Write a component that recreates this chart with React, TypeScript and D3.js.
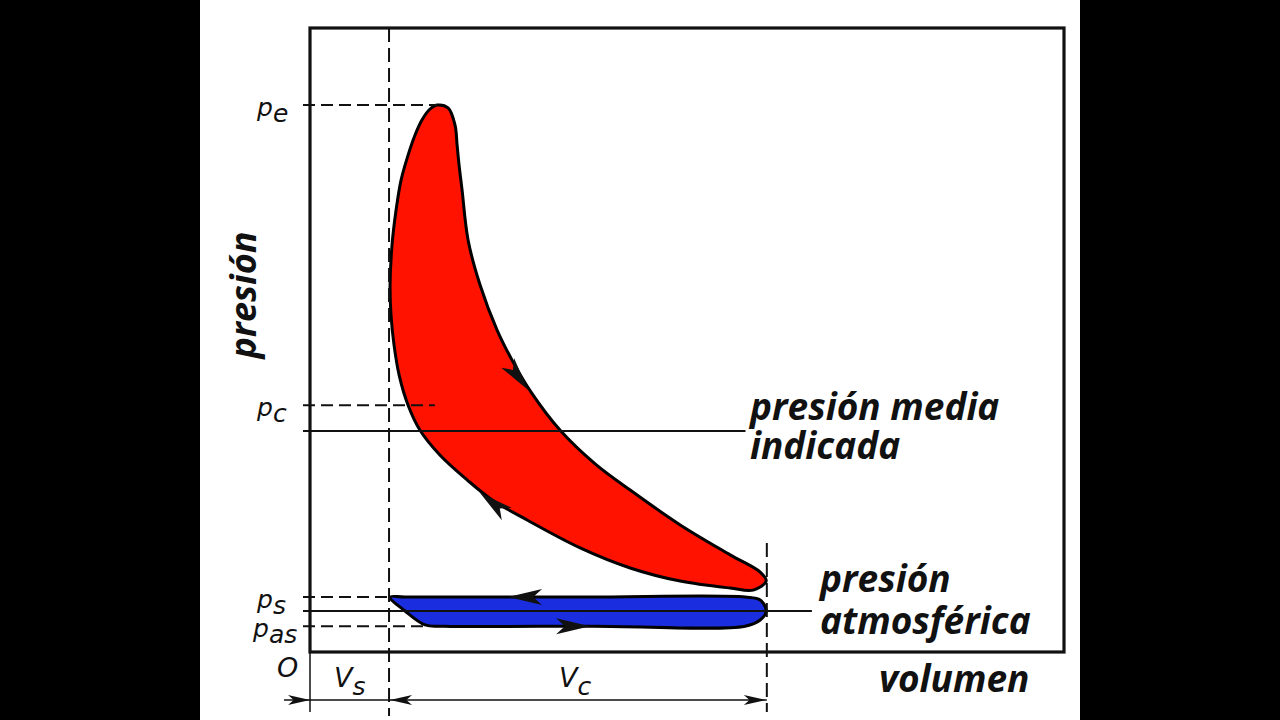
import { useEffect, useRef } from 'react';
import * as d3 from 'd3';

// p–V indicator diagram: volume in units of the clearance volume, pressure in bar
const V_CLEAR = 1.0;   // end of clearance volume V_s
const V_BDC = 5.78;    // V_s + V_c
const V_MAX = 9.54;
const P_MAX = 15.22;

// named pressure levels on the left axis
const levelSubs = ['e', 'c', 's', 'as'];
const levelValues = [13.34, 6.02, 1.34, 0.63];
const levelReach = [1.61, 1.58, 1.01, 1.46]; // volume where each dashed guide stops

const P_MEAN = 5.39;   // presión media indicada
const P_ATM = 1.0;     // presión atmosférica
const MEAN_REACH = 5.51;
const ATM_REACH = 6.35;

// expansion stroke, from peak pressure down to BDC
const expansion: [number, number][] = [
  [1.608, 13.34], [1.747, 13.27], [1.835, 12.85], [1.861, 12.37], [1.886, 11.88],
  [1.924, 11.27], [2.0, 10.05], [2.152, 8.95], [2.367, 7.85], [2.57, 7.07],
  [2.797, 6.34], [3.165, 5.41], [3.608, 4.59], [4.051, 3.95], [4.684, 3.1],
  [5.316, 2.37], [5.696, 1.95], [5.772, 1.73],
];

// compression stroke, from BDC back up to the peak
const compression: [number, number][] = [
  [5.608, 1.51], [5.316, 1.56], [4.684, 1.73], [4.051, 2.05], [3.418, 2.54],
  [2.747, 3.22], [2.304, 3.71], [1.987, 4.2], [1.646, 4.8], [1.392, 5.41],
  [1.241, 6.02], [1.127, 6.76], [1.063, 7.49], [1.025, 8.22], [1.013, 8.95],
  [1.038, 9.93], [1.089, 10.78], [1.152, 11.51], [1.241, 12.12], [1.329, 12.61],
  [1.418, 12.98], [1.506, 13.22],
];

// exhaust (upper edge) and intake (lower edge) loop
const pumping: [number, number][] = [
  [1.013, 1.34], [1.203, 1.0], [1.456, 0.66], [1.7, 0.63], [3.6, 0.63],
  [5.506, 0.63], [5.696, 0.78], [5.772, 1.0], [5.696, 1.27], [5.506, 1.34],
  [3.5, 1.34], [1.2, 1.34],
];

// direction arrows on each stroke: tip and a point behind it
const flowTips: [number, number][] = [[2.759, 6.39], [2.152, 3.88], [2.506, 1.34], [3.544, 0.63]];
const flowTails: [number, number][] = [[2.494, 7.07], [2.506, 3.34], [2.911, 1.34], [3.139, 0.63]];

const LABEL_FONT = '"Open Sans", "Noto Sans", sans-serif';
const SYMBOL_FONT = '"DejaVu Sans", sans-serif';

export default function App() {
  const ref = useRef<SVGSVGElement>(null);

  useEffect(() => {
    if (!ref.current) return;
    const svg = d3.select(ref.current);
    svg.selectAll('*').remove();

    const x = d3.scaleLinear().domain([0, V_MAX]).range([310, 1064]);
    const y = d3.scaleLinear().domain([0, P_MAX]).range([652, 28]);

    svg.append('rect').attr('width', 1280).attr('height', 720).attr('fill', '#000');
    svg.append('rect').attr('x', 200).attr('width', 880).attr('height', 720).attr('fill', '#fff');

    const loop = d3.line<[number, number]>()
      .x(d => x(d[0]))
      .y(d => y(d[1]))
      .curve(d3.curveCatmullRomClosed.alpha(0.5));

    // work loop
    svg.append('path')
      .attr('d', loop(expansion.concat(compression)))
      .attr('fill', '#ff1200')
      .attr('stroke', '#000')
      .attr('stroke-width', 3)
      .attr('stroke-linejoin', 'round');

    // pumping loop
    svg.append('path')
      .attr('d', loop(pumping))
      .attr('fill', '#1a2ee0')
      .attr('stroke', '#000')
      .attr('stroke-width', 3)
      .attr('stroke-linejoin', 'round');

    const ink = '#111';

    // dashed guides from the axis to each pressure level
    levelValues.forEach((p, i) => {
      svg.append('line')
        .attr('x1', x(0) - 7).attr('x2', x(levelReach[i]))
        .attr('y1', y(p)).attr('y2', y(p))
        .attr('stroke', ink).attr('stroke-width', 2)
        .attr('stroke-dasharray', '12 6');
    });

    // mean indicated and atmospheric pressure
    [[P_MEAN, MEAN_REACH], [P_ATM, ATM_REACH]].forEach(([p, v]) => {
      svg.append('line')
        .attr('x1', x(0) - 7).attr('x2', x(v))
        .attr('y1', y(p)).attr('y2', y(p))
        .attr('stroke', ink).attr('stroke-width', 1.8);
    });

    // vertical guides at the clearance and swept volume ends
    svg.append('line')
      .attr('x1', x(V_CLEAR)).attr('x2', x(V_CLEAR))
      .attr('y1', y(P_MAX)).attr('y2', 716)
      .attr('stroke', ink).attr('stroke-width', 2)
      .attr('stroke-dasharray', '14 6');
    svg.append('line')
      .attr('x1', x(V_BDC)).attr('x2', x(V_BDC))
      .attr('y1', y(2.66)).attr('y2', 712)
      .attr('stroke', ink).attr('stroke-width', 2)
      .attr('stroke-dasharray', '14 6');
    svg.append('line')
      .attr('x1', x(0)).attr('x2', x(0))
      .attr('y1', y(0)).attr('y2', 712)
      .attr('stroke', ink).attr('stroke-width', 1.5);

    // frame
    svg.append('rect')
      .attr('x', x(0)).attr('y', y(P_MAX))
      .attr('width', x(V_MAX) - x(0)).attr('height', y(0) - y(P_MAX))
      .attr('fill', 'none').attr('stroke', ink).attr('stroke-width', 3.2);

    const arrowHead = (tx: number, ty: number, angle: number, len: number, half: number) => {
      const pts: [number, number][] = [[0, 0], [-len, -half], [-len * 0.74, 0], [-len, half]];
      const c = Math.cos(angle), s = Math.sin(angle);
      svg.append('polygon')
        .attr('points', pts.map(([a, b]) => `${tx + a * c - b * s},${ty + a * s + b * c}`).join(' '))
        .attr('fill', ink);
    };

    // flow direction arrows
    flowTips.forEach((tip, i) => {
      const tx = x(tip[0]), ty = y(tip[1]);
      const fx = x(flowTails[i][0]), fy = y(flowTails[i][1]);
      arrowHead(tx, ty, Math.atan2(ty - fy, tx - fx), 34, 8);
    });

    // dimension line for V_s and V_c
    const dimY = 700;
    svg.append('line')
      .attr('x1', x(0) - 26).attr('x2', x(V_BDC))
      .attr('y1', dimY).attr('y2', dimY)
      .attr('stroke', ink).attr('stroke-width', 1.6);
    arrowHead(x(0), dimY, 0, 22, 5);
    arrowHead(x(V_CLEAR) + 1, dimY, Math.PI, 22, 5);
    arrowHead(x(V_BDC) - 1, dimY, 0, 22, 5);

    // pressure symbols
    levelSubs.forEach((sub, i) => {
      const t = svg.append('text')
        .attr('x', 257 - (sub.length - 1) * 4)
        .attr('y', y(levelValues[i]) + 11)
        .attr('font-family', SYMBOL_FONT)
        .attr('font-style', 'italic')
        .attr('font-size', 25)
        .attr('fill', ink);
      t.append('tspan').text('p');
      t.append('tspan').attr('dy', 6).text(sub);
    });

    const symbol = (tx: number, ty: number, main: string, sub?: string) => {
      const t = svg.append('text')
        .attr('x', tx).attr('y', ty)
        .attr('font-family', SYMBOL_FONT)
        .attr('font-style', 'italic')
        .attr('font-size', 27)
        .attr('fill', ink);
      t.append('tspan').text(main);
      if (sub) t.append('tspan').attr('dy', 8).attr('font-size', 25).text(sub);
    };
    symbol(277, 677, 'O');
    symbol(334, 687, 'V', 's');
    symbol(559, 687, 'V', 'c');

    const label = (tx: number, ty: number, text: string, rotate = false) => {
      const t = svg.append('text')
        .attr('font-family', LABEL_FONT)
        .attr('font-style', 'italic')
        .attr('font-weight', 700)
        .attr('font-size', rotate ? 36 : 37)
        .attr('fill', ink)
        .text(text);
      if (rotate) {
        t.attr('text-anchor', 'middle').attr('transform', `translate(${tx},${ty}) rotate(-90)`);
      } else {
        t.attr('x', tx).attr('y', ty);
      }
    };
    label(256, 295, 'presión', true);
    label(750, 420, 'presión media');
    label(750, 459, 'indicada');
    label(820, 592, 'presión');
    label(820, 634, 'atmosférica');
    label(879, 692, 'volumen');
  }, []);

  return (
    <svg
      ref={ref}
      width={1280}
      height={720}
      style={{ position: 'fixed', left: 0, top: 0, display: 'block' }}
    />
  );
}
